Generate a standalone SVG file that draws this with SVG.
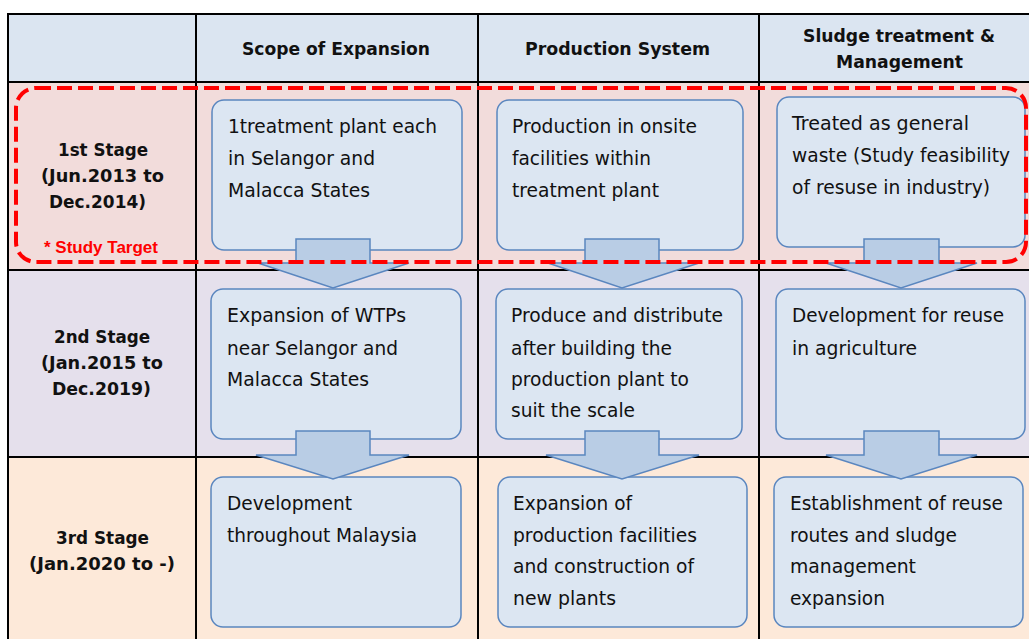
<svg xmlns="http://www.w3.org/2000/svg" width="1029" height="639" viewBox="0 0 1029 639">
  <style>
    .grid { stroke: #000; stroke-width: 2; fill: none; }
    .box { fill: #DCE6F2; stroke: #5A86BF; stroke-width: 1.5; }
    .arrow { fill: #B9CDE5; stroke: #5A86BF; stroke-width: 1.5; stroke-linejoin: miter; }
    .body { font-family: "DejaVu Sans", Verdana, sans-serif; font-size: 19px; fill: #111; }
    .head { font-family: "DejaVu Sans", Verdana, sans-serif; font-size: 18px; font-weight: bold; fill: #111; }
    .target { font-family: "Liberation Sans", Arial, sans-serif; font-size: 16px; font-weight: bold; fill: #FF0000; }
    .scope { fill: none; stroke: #FF0000; stroke-width: 4; stroke-dasharray: 15 6; }
  </style>

  <!-- table background bands -->
  <rect x="0" y="0" width="1029" height="639" fill="#FFFFFF"/>
  <rect x="8" y="14" width="1040" height="68" fill="#DBE5F1"/>
  <rect x="8" y="82" width="1040" height="188" fill="#F2DCDB"/>
  <rect x="8" y="270" width="1040" height="187" fill="#E5E0EC"/>
  <rect x="8" y="457" width="1040" height="190" fill="#FDE9D9"/>

  <!-- table rules -->
  <g id="table-grid" class="grid">
    <line x1="8" y1="14" x2="1040" y2="14"/>
    <line x1="8" y1="82" x2="1040" y2="82"/>
    <line x1="8" y1="270" x2="1040" y2="270"/>
    <line x1="8" y1="457" x2="1040" y2="457"/>
    <line x1="8" y1="13" x2="8" y2="645"/>
    <line x1="196" y1="13" x2="196" y2="645"/>
    <line x1="478" y1="13" x2="478" y2="645"/>
    <line x1="759" y1="13" x2="759" y2="645"/>
  </g>

  <!-- column headers -->
  <g id="header-scope">
    <text class="head" x="242" y="55" textLength="188" lengthAdjust="spacingAndGlyphs">Scope of Expansion</text>
  </g>
  <g id="header-production">
    <text class="head" x="525" y="55" textLength="185" lengthAdjust="spacingAndGlyphs">Production System</text>
  </g>
  <g id="header-sludge">
    <text class="head" x="803" y="42" textLength="192" lengthAdjust="spacingAndGlyphs">Sludge treatment &amp;</text>
    <text class="head" x="836" y="68" textLength="127" lengthAdjust="spacingAndGlyphs">Management</text>
  </g>

  <!-- stage labels -->
  <g id="stage-1">
    <text class="head" x="58" y="156" textLength="90" lengthAdjust="spacingAndGlyphs">1st Stage</text>
    <text class="head" x="41" y="182" textLength="123" lengthAdjust="spacingAndGlyphs">(Jun.2013 to</text>
    <text class="head" x="49" y="208" textLength="97" lengthAdjust="spacingAndGlyphs">Dec.2014)</text>
    <text class="target" x="44" y="253" textLength="114" lengthAdjust="spacingAndGlyphs">* Study Target</text>
  </g>
  <g id="stage-2">
    <text class="head" x="54" y="343" textLength="96" lengthAdjust="spacingAndGlyphs">2nd Stage</text>
    <text class="head" x="41" y="369" textLength="122" lengthAdjust="spacingAndGlyphs">(Jan.2015 to</text>
    <text class="head" x="52" y="395" textLength="99" lengthAdjust="spacingAndGlyphs">Dec.2019)</text>
  </g>
  <g id="stage-3">
    <text class="head" x="56" y="544" textLength="93" lengthAdjust="spacingAndGlyphs">3rd Stage</text>
    <text class="head" x="29" y="570" textLength="146" lengthAdjust="spacingAndGlyphs">(Jan.2020 to -)</text>
  </g>

  <!-- stage 1 boxes -->
  <g id="s1-scope">
    <rect class="box" x="212" y="100" width="250" height="150" rx="12"/>
    <text class="body" x="228" y="133" textLength="209" lengthAdjust="spacingAndGlyphs">1treatment plant each</text>
    <text class="body" x="228" y="165" textLength="147" lengthAdjust="spacingAndGlyphs">in Selangor and</text>
    <text class="body" x="228" y="197" textLength="142" lengthAdjust="spacingAndGlyphs">Malacca States</text>
  </g>
  <g id="s1-production">
    <rect class="box" x="497" y="100" width="246" height="150" rx="12"/>
    <text class="body" x="512" y="133" textLength="185" lengthAdjust="spacingAndGlyphs">Production in onsite</text>
    <text class="body" x="512" y="165" textLength="139" lengthAdjust="spacingAndGlyphs">facilities within</text>
    <text class="body" x="512" y="197" textLength="147" lengthAdjust="spacingAndGlyphs">treatment plant</text>
  </g>
  <g id="s1-sludge">
    <rect class="box" x="777" y="97" width="248" height="150" rx="12"/>
    <text class="body" x="792" y="130" textLength="177" lengthAdjust="spacingAndGlyphs">Treated as general</text>
    <text class="body" x="792" y="162" textLength="218" lengthAdjust="spacingAndGlyphs">waste (Study feasibility</text>
    <text class="body" x="792" y="194" textLength="198" lengthAdjust="spacingAndGlyphs">of resuse in industry)</text>
  </g>

  <!-- stage 2 boxes -->
  <g id="s2-scope">
    <rect class="box" x="211" y="289" width="250" height="150" rx="12"/>
    <text class="body" x="227" y="322" textLength="179" lengthAdjust="spacingAndGlyphs">Expansion of WTPs</text>
    <text class="body" x="227" y="355" textLength="171" lengthAdjust="spacingAndGlyphs">near Selangor and</text>
    <text class="body" x="227" y="386" textLength="142" lengthAdjust="spacingAndGlyphs">Malacca States</text>
  </g>
  <g id="s2-production">
    <rect class="box" x="496" y="289" width="246" height="150" rx="12"/>
    <text class="body" x="511" y="322" textLength="212" lengthAdjust="spacingAndGlyphs">Produce and distribute</text>
    <text class="body" x="511" y="355" textLength="161" lengthAdjust="spacingAndGlyphs">after building the</text>
    <text class="body" x="511" y="386" textLength="178" lengthAdjust="spacingAndGlyphs">production plant to</text>
    <text class="body" x="511" y="417" textLength="124" lengthAdjust="spacingAndGlyphs">suit the scale</text>
  </g>
  <g id="s2-sludge">
    <rect class="box" x="776" y="289" width="249" height="150" rx="12"/>
    <text class="body" x="792" y="322" textLength="212" lengthAdjust="spacingAndGlyphs">Development for reuse</text>
    <text class="body" x="792" y="355" textLength="125" lengthAdjust="spacingAndGlyphs">in agriculture</text>
  </g>

  <!-- stage 3 boxes -->
  <g id="s3-scope">
    <rect class="box" x="211" y="477" width="250" height="150" rx="12"/>
    <text class="body" x="227" y="510" textLength="125" lengthAdjust="spacingAndGlyphs">Development</text>
    <text class="body" x="227" y="542" textLength="190" lengthAdjust="spacingAndGlyphs">throughout Malaysia</text>
  </g>
  <g id="s3-production">
    <rect class="box" x="498" y="477" width="249" height="150" rx="12"/>
    <text class="body" x="513" y="510" textLength="119" lengthAdjust="spacingAndGlyphs">Expansion of</text>
    <text class="body" x="513" y="542" textLength="184" lengthAdjust="spacingAndGlyphs">production facilities</text>
    <text class="body" x="513" y="573" textLength="181" lengthAdjust="spacingAndGlyphs">and construction of</text>
    <text class="body" x="513" y="605" textLength="103" lengthAdjust="spacingAndGlyphs">new plants</text>
  </g>
  <g id="s3-sludge">
    <rect class="box" x="774" y="477" width="249" height="150" rx="12"/>
    <text class="body" x="790" y="510" textLength="213" lengthAdjust="spacingAndGlyphs">Establishment of reuse</text>
    <text class="body" x="790" y="542" textLength="167" lengthAdjust="spacingAndGlyphs">routes and sludge</text>
    <text class="body" x="790" y="573" textLength="126" lengthAdjust="spacingAndGlyphs">management</text>
    <text class="body" x="790" y="605" textLength="95" lengthAdjust="spacingAndGlyphs">expansion</text>
  </g>

  <!-- block arrows between stages -->
  <g id="connectors">
    <path class="arrow" d="M296,239 H370 V263 H409 L333,288 L258,263 H296 Z"/>
    <path class="arrow" d="M585,239 H659 V263 H699 L622,288 L548,263 H585 Z"/>
    <path class="arrow" d="M864,239 H939 V263 H977 L901,288 L826,263 H864 Z"/>
    <path class="arrow" d="M296,431 H370 V455 H409 L333,479 L256,455 H296 Z"/>
    <path class="arrow" d="M585,431 H659 V455 H699 L622,479 L546,455 H585 Z"/>
    <path class="arrow" d="M864,431 H939 V455 H977 L901,479 L826,455 H864 Z"/>
  </g>

  <!-- study target outline around stage 1 -->
  <rect class="scope" x="16" y="88" width="1010" height="174" rx="20"/>
</svg>
